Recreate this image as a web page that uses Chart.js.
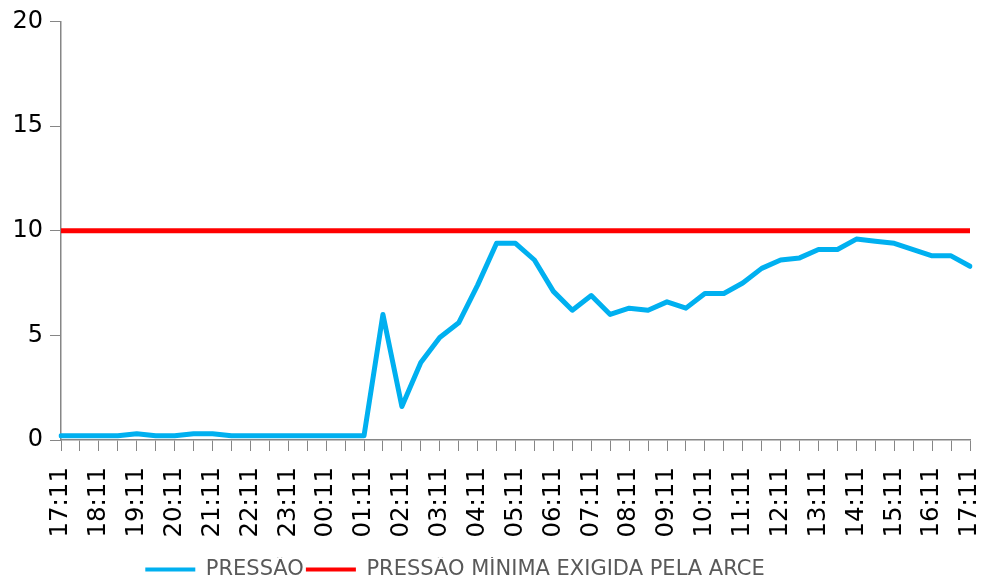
<!DOCTYPE html>
<html>
<head>
<meta charset="utf-8">
<script src="https://cdn.jsdelivr.net/npm/chart.js@4.4.1/dist/chart.umd.min.js"></script>
<style>
  html, body { margin: 0; padding: 0; background: #fff; }
  #wrap { width: 982px; height: 582px; position: relative; }
</style>
</head>
<body>
<div id="wrap"><canvas id="pressureChart" width="982" height="582"></canvas></div>
<script>
// one label every hour, an unlabeled point every half hour
const hourLabels = ['17:11', '18:11', '19:11', '20:11', '21:11', '22:11', '23:11', '00:11', '01:11',
  '02:11', '03:11', '04:11', '05:11', '06:11', '07:11', '08:11', '09:11', '10:11', '11:11',
  '12:11', '13:11', '14:11', '15:11', '16:11', '17:11'];

const pressao = [0.2, 0.2, 0.2, 0.2, 0.3, 0.2, 0.2, 0.3, 0.3, 0.2, 0.2, 0.2, 0.2, 0.2, 0.2, 0.2, 0.2,
  6.0, 1.6, 3.7, 4.9, 5.6, 7.4, 9.4, 9.4, 8.6, 7.1, 6.2, 6.9, 6.0, 6.3, 6.2, 6.6, 6.3,
  7.0, 7.0, 7.5, 8.2, 8.6, 8.7, 9.1, 9.1, 9.6, 9.5, 9.4, 9.1, 8.8, 8.8, 8.3];

const pressaoMinima = 10;

const yTicks = { min: 0, max: 20, step: 5 };

const labels = [];
hourLabels.forEach((h, i) => {
  labels.push(h);
  if (i < hourLabels.length - 1) labels.push('');
});

const axisGray = '#868686';

// legend sits a bit left of centre in the original
const shiftLegend = {
  id: 'shiftLegend',
  afterLayout(chart) {
    const lg = chart.legend;
    if (!lg) return;
    lg.left -= 30;
    lg.right -= 30;
  }
};

const ctx = document.getElementById('pressureChart');
new Chart(ctx, {
  type: 'line',
  data: {
    labels,
    datasets: [{
      label: 'PRESSÃO',
      data: pressao,
      borderColor: '#00B0F0',
      backgroundColor: '#00B0F0',
      borderWidth: 5,
      borderJoinStyle: 'round',
      borderCapStyle: 'round',
      pointRadius: 0,
      tension: 0
    }, {
      label: 'PRESSÃO MÍNIMA EXIGIDA PELA ARCE',
      data: labels.map(() => pressaoMinima),
      borderColor: '#FF0000',
      backgroundColor: '#FF0000',
      borderWidth: 5,
      pointRadius: 0,
      tension: 0
    }]
  },
  options: {
    responsive: false,
    animation: false,
    layout: { padding: { top: 20, right: 12, left: 0, bottom: -8 } },
    plugins: {
      tooltip: { enabled: false },
      legend: {
        position: 'bottom',
        labels: {
          boxWidth: 50,
          boxHeight: 4,
          padding: 2,
          color: '#595959',
          font: { family: 'DejaVu Sans', size: 21 },
          generateLabels: (chart) => Chart.defaults.plugins.legend.labels.generateLabels(chart)
            .map(item => ({ ...item, lineWidth: 0 }))
        }
      }
    },
    scales: {
      x: {
        offset: false,
        grid: {
          drawOnChartArea: false,
          drawTicks: true,
          tickLength: 11,
          color: axisGray,
          offset: false
        },
        border: { color: axisGray, width: 1.5 },
        ticks: {
          autoSkip: false,
          minRotation: 90,
          maxRotation: 90,
          padding: 16,
          color: '#000',
          font: { family: 'DejaVu Sans', size: 24.5 }
        },
        afterFit: (scale) => {
          scale.height = 117;
          scale.paddingLeft = 0;
          scale.paddingRight = 0;
        }
      },
      y: {
        min: yTicks.min,
        max: yTicks.max,
        grid: {
          drawOnChartArea: false,
          drawTicks: true,
          tickLength: 11,
          color: axisGray
        },
        border: { color: axisGray, width: 1.5 },
        ticks: {
          stepSize: yTicks.step,
          padding: 7,
          color: '#000',
          font: { family: 'DejaVu Sans', size: 24 }
        },
        afterFit: (scale) => { scale.width = 61; }
      }
    }
  },
  plugins: [shiftLegend]
});
</script>
</body>
</html>
